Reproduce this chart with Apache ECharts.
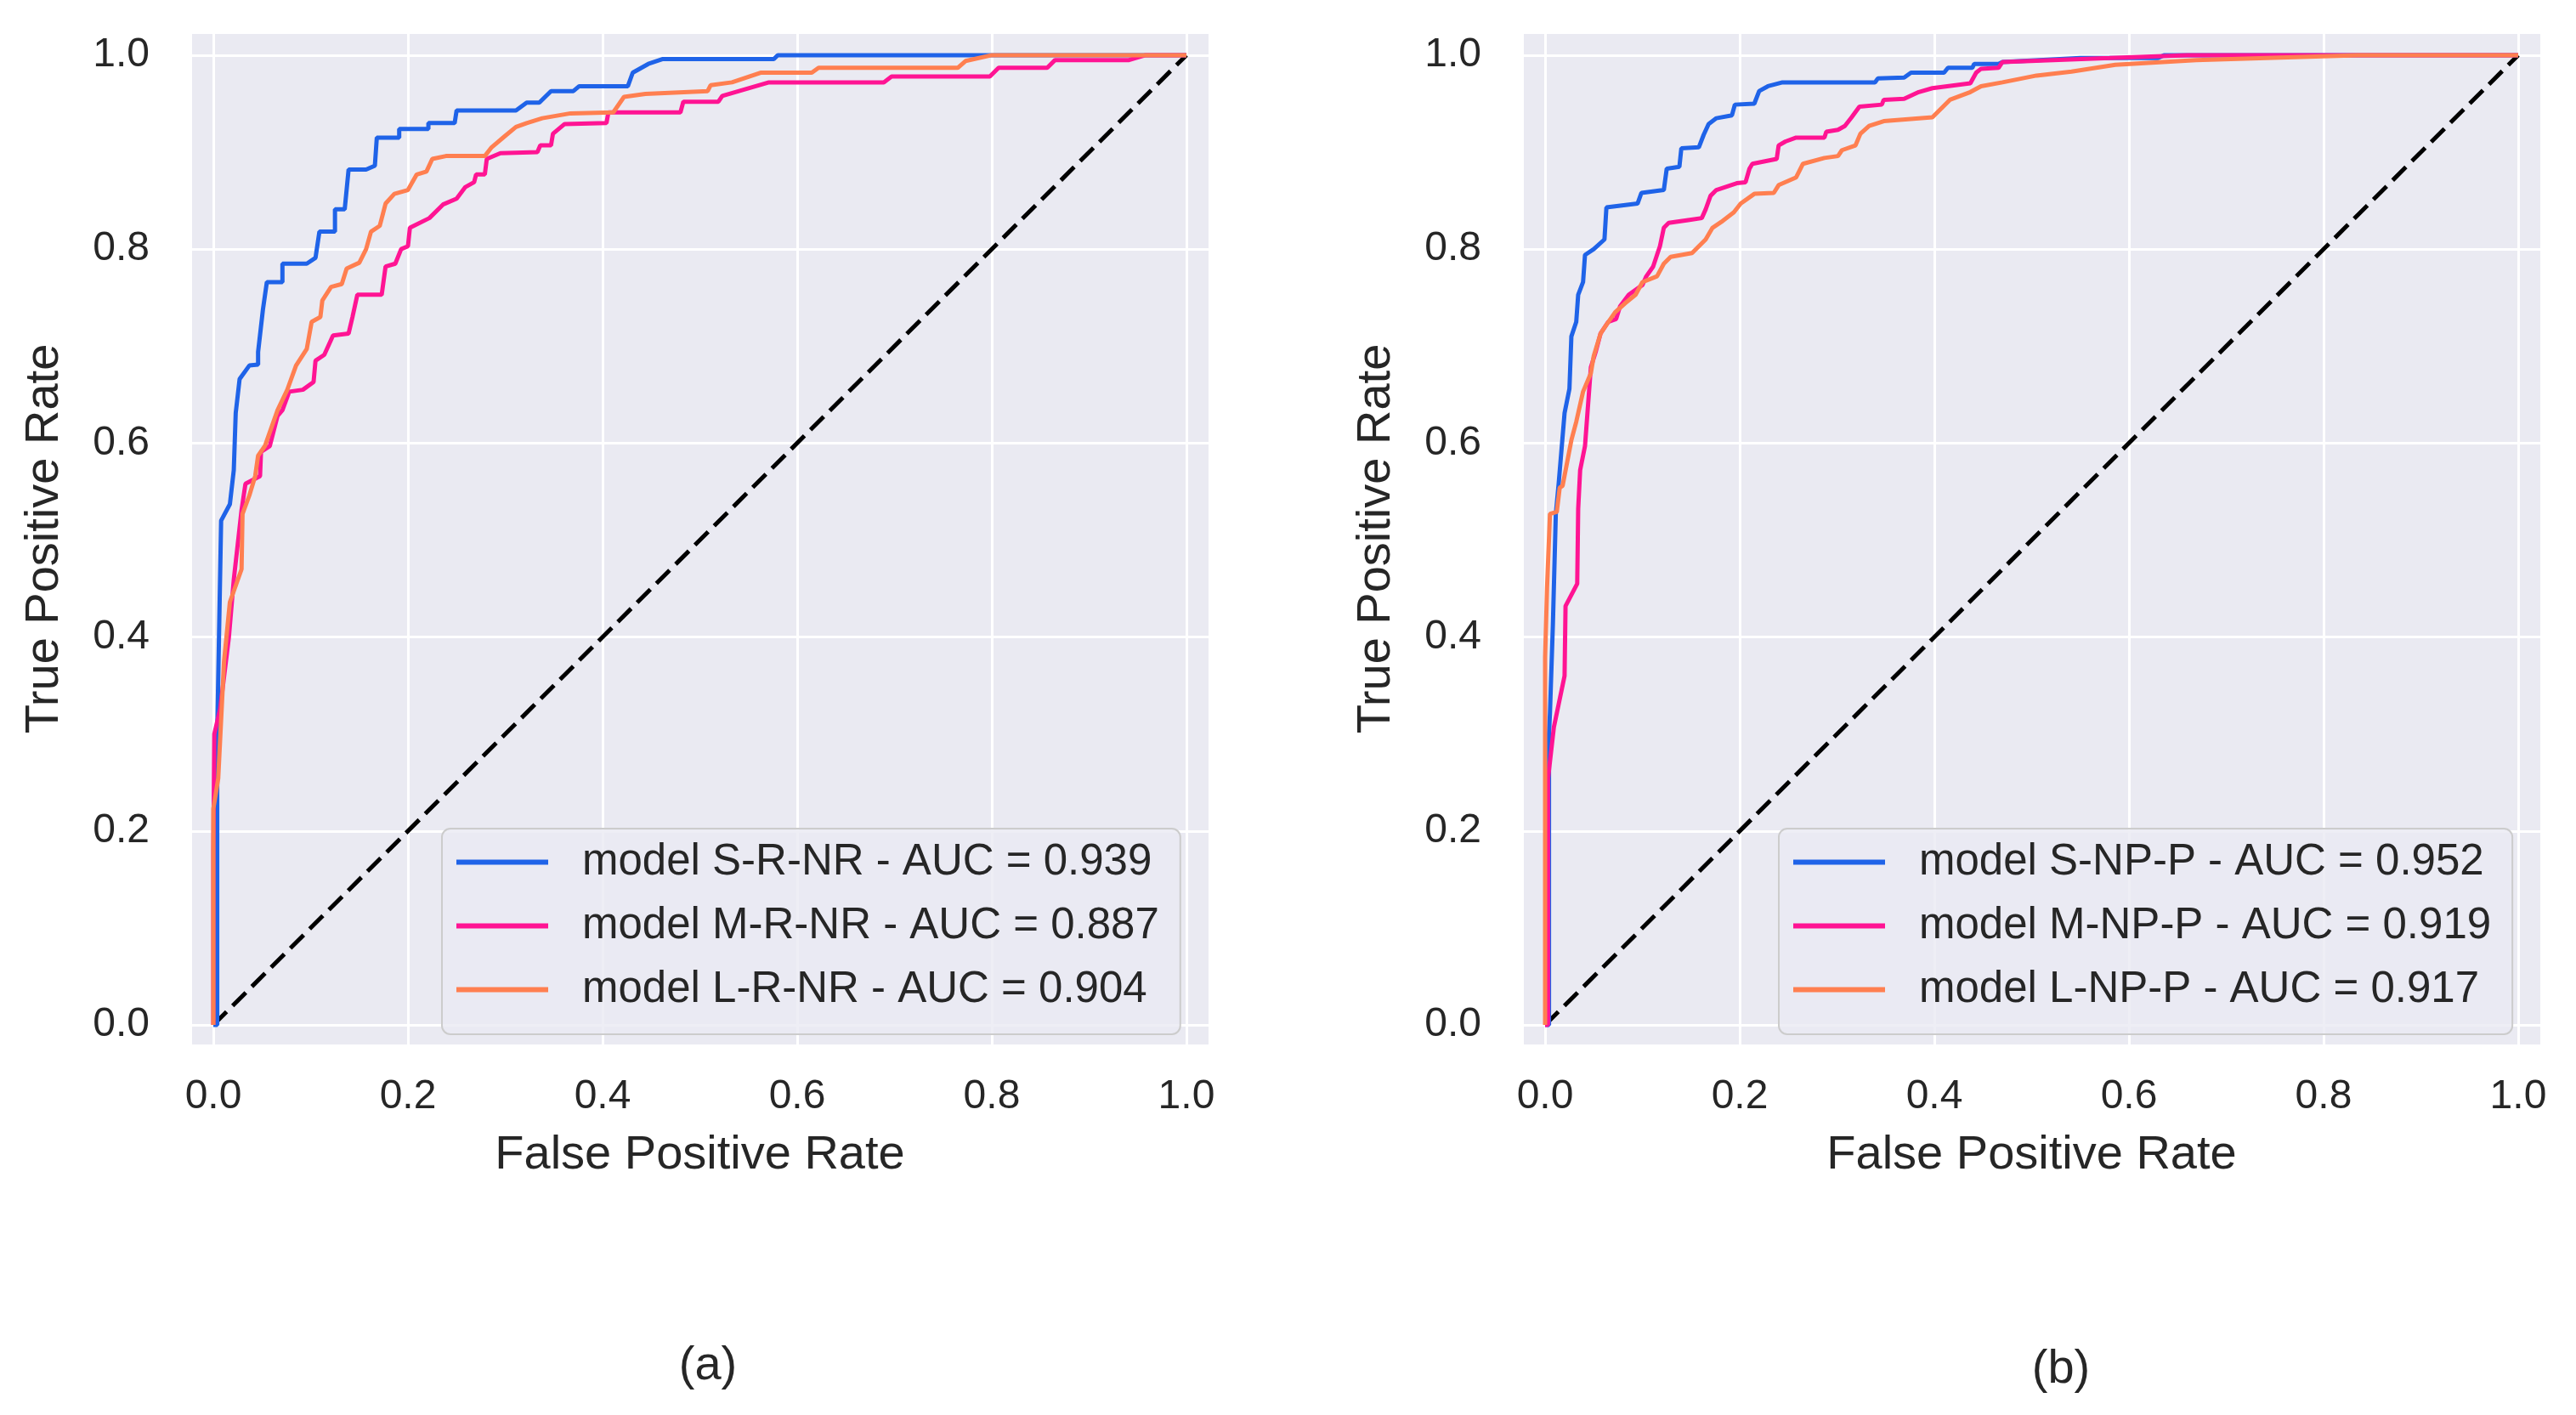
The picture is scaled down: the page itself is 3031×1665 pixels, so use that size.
<!DOCTYPE html>
<html>
<head>
<meta charset="utf-8">
<script src="https://cdn.jsdelivr.net/npm/echarts@6/dist/echarts.min.js"></script>
<style>
html,body{margin:0;padding:0;background:#fff}
#main{width:3031px;height:1665px}
</style>
</head>
<body>
<div id="main"></div>
<script>
// ROC points [FPR, TPR]
// panel (a)
var rocSRNR = [[0,0],[0.004,0],[0.004,0.30],[0.008,0.52],[0.017,0.537],[0.021,0.572],[0.023,0.631],[0.027,0.666],[0.037,0.68],[0.046,0.681],[0.046,0.694],[0.051,0.738],[0.055,0.766],[0.071,0.766],[0.071,0.785],[0.096,0.785],[0.105,0.791],[0.109,0.818],[0.125,0.818],[0.125,0.841],[0.135,0.841],[0.139,0.882],[0.157,0.882],[0.166,0.886],[0.168,0.915],[0.191,0.915],[0.191,0.924],[0.221,0.924],[0.221,0.930],[0.248,0.930],[0.25,0.943],[0.311,0.943],[0.322,0.951],[0.335,0.951],[0.347,0.963],[0.37,0.963],[0.376,0.968],[0.426,0.968],[0.431,0.982],[0.447,0.991],[0.462,0.996],[0.576,0.996],[0.58,1.0],[1.0,1.0]];
var rocMRNR = [[0,0],[0,0.18],[0.001,0.30],[0.007,0.326],[0.016,0.40],[0.021,0.459],[0.029,0.531],[0.033,0.558],[0.048,0.566],[0.049,0.591],[0.058,0.597],[0.066,0.628],[0.071,0.634],[0.078,0.653],[0.092,0.655],[0.103,0.663],[0.105,0.685],[0.114,0.691],[0.123,0.711],[0.139,0.713],[0.143,0.730],[0.148,0.753],[0.173,0.753],[0.177,0.782],[0.187,0.785],[0.193,0.80],[0.2,0.803],[0.202,0.822],[0.222,0.832],[0.236,0.846],[0.25,0.852],[0.259,0.864],[0.268,0.869],[0.27,0.877],[0.279,0.877],[0.281,0.893],[0.295,0.899],[0.333,0.900],[0.336,0.907],[0.347,0.907],[0.349,0.919],[0.361,0.929],[0.404,0.930],[0.406,0.941],[0.48,0.941],[0.483,0.952],[0.519,0.952],[0.523,0.958],[0.571,0.972],[0.689,0.972],[0.697,0.978],[0.798,0.978],[0.807,0.987],[0.857,0.987],[0.865,0.995],[0.941,0.995],[0.958,1.0],[1.0,1.0]];
var rocLRNR = [[0,0],[0,0.223],[0.005,0.254],[0.011,0.375],[0.017,0.436],[0.029,0.47],[0.03,0.527],[0.037,0.546],[0.043,0.566],[0.046,0.587],[0.053,0.597],[0.066,0.634],[0.076,0.655],[0.085,0.68],[0.096,0.697],[0.101,0.725],[0.110,0.730],[0.112,0.747],[0.121,0.761],[0.132,0.764],[0.137,0.78],[0.15,0.786],[0.157,0.80],[0.162,0.818],[0.171,0.824],[0.177,0.847],[0.186,0.857],[0.2,0.861],[0.209,0.877],[0.219,0.88],[0.225,0.893],[0.239,0.896],[0.279,0.896],[0.286,0.905],[0.299,0.916],[0.311,0.926],[0.322,0.930],[0.338,0.935],[0.367,0.94],[0.411,0.941],[0.422,0.957],[0.444,0.96],[0.508,0.963],[0.511,0.969],[0.533,0.972],[0.563,0.982],[0.615,0.982],[0.622,0.987],[0.765,0.987],[0.773,0.994],[0.80,1.0],[1.0,1.0]];
// panel (b)
var rocSNPP = [[0,0],[0.004,0],[0.004,0.30],[0.005,0.322],[0.008,0.413],[0.011,0.527],[0.014,0.559],[0.020,0.631],[0.025,0.656],[0.027,0.71],[0.032,0.725],[0.034,0.753],[0.039,0.766],[0.041,0.794],[0.050,0.80],[0.061,0.81],[0.063,0.843],[0.095,0.847],[0.099,0.858],[0.122,0.861],[0.125,0.883],[0.138,0.885],[0.140,0.904],[0.158,0.905],[0.163,0.918],[0.168,0.929],[0.176,0.935],[0.192,0.938],[0.195,0.949],[0.215,0.95],[0.22,0.963],[0.229,0.968],[0.244,0.972],[0.339,0.972],[0.342,0.976],[0.369,0.977],[0.376,0.982],[0.41,0.982],[0.414,0.987],[0.439,0.987],[0.441,0.991],[0.466,0.991],[0.47,0.993],[0.55,0.997],[0.63,0.997],[0.636,1.0],[1.0,1.0]];
var rocMNPP = [[0,0],[0.003,0],[0.003,0.254],[0.009,0.307],[0.02,0.36],[0.021,0.432],[0.033,0.455],[0.034,0.532],[0.036,0.572],[0.041,0.597],[0.047,0.678],[0.052,0.694],[0.057,0.713],[0.065,0.725],[0.073,0.728],[0.077,0.741],[0.086,0.753],[0.1,0.763],[0.104,0.772],[0.111,0.782],[0.116,0.797],[0.118,0.803],[0.122,0.822],[0.127,0.827],[0.147,0.83],[0.161,0.832],[0.165,0.841],[0.170,0.855],[0.176,0.861],[0.197,0.868],[0.206,0.869],[0.21,0.883],[0.213,0.888],[0.238,0.893],[0.24,0.907],[0.247,0.911],[0.258,0.915],[0.287,0.915],[0.289,0.921],[0.301,0.923],[0.308,0.927],[0.315,0.936],[0.323,0.947],[0.346,0.949],[0.348,0.954],[0.369,0.955],[0.384,0.962],[0.398,0.966],[0.437,0.971],[0.443,0.982],[0.448,0.986],[0.466,0.987],[0.47,0.993],[0.58,0.997],[0.66,1.0],[1.0,1.0]];
var rocLNPP = [[0,0],[0,0.246],[0,0.379],[0.002,0.451],[0.005,0.527],[0.012,0.529],[0.015,0.554],[0.018,0.556],[0.027,0.603],[0.032,0.622],[0.039,0.653],[0.047,0.672],[0.050,0.69],[0.057,0.713],[0.063,0.722],[0.072,0.735],[0.082,0.744],[0.093,0.753],[0.1,0.766],[0.115,0.772],[0.122,0.785],[0.129,0.792],[0.151,0.796],[0.158,0.803],[0.165,0.81],[0.172,0.822],[0.181,0.828],[0.194,0.838],[0.201,0.847],[0.215,0.857],[0.235,0.858],[0.24,0.866],[0.258,0.874],[0.265,0.888],[0.287,0.894],[0.301,0.896],[0.305,0.902],[0.319,0.907],[0.324,0.919],[0.333,0.927],[0.348,0.932],[0.398,0.936],[0.416,0.954],[0.437,0.962],[0.448,0.968],[0.47,0.972],[0.505,0.979],[0.541,0.983],[0.586,0.99],[0.669,0.995],[0.835,1.0],[1.0,1.0]];
var chance = [[0,0],[1,1]];

var namesA = ['model S-R-NR - AUC = 0.939','model M-R-NR - AUC = 0.887','model L-R-NR - AUC = 0.904'];
var namesB = ['model S-NP-P - AUC = 0.952','model M-NP-P - AUC = 0.919','model L-NP-P - AUC = 0.917'];
var colors = ['#1f63e8','#ff1493','#ff7f50'];

var font = "'Liberation Sans', Arial, sans-serif";
var ink = '#262626';

function xAx(i){
  return {
    type:'value', gridIndex:i, min:-0.0236, max:1.0236,
    name:'False Positive Rate', nameLocation:'middle', nameGap:102,
    nameTextStyle:{fontSize:56, color:ink, fontFamily:font},
    axisLine:{show:false, onZero:false}, axisTick:{show:false},
    axisLabel:{fontSize:48, color:ink, fontFamily:font, margin:37,
      showMinLabel:false, showMaxLabel:false,
      formatter:function(v){return v.toFixed(1);}},
    splitLine:{lineStyle:{color:'#ffffff', width:3}}
  };
}
function yAx(i){
  return {
    type:'value', gridIndex:i, min:-0.021, max:1.0236,
    name:'True Positive Rate', nameLocation:'middle', nameGap:143, nameRotate:90,
    nameTextStyle:{fontSize:56, color:ink, fontFamily:font},
    axisLine:{show:false, onZero:false}, axisTick:{show:false},
    axisLabel:{fontSize:48, color:ink, fontFamily:font, margin:48,
      showMinLabel:false, showMaxLabel:false,
      formatter:function(v){return v.toFixed(1);}},
    splitLine:{lineStyle:{color:'#ffffff', width:3}}
  };
}
function legendAt(left, names){
  return {
    orient:'vertical', left:left, top:975, data:names,
    icon:'rect', itemWidth:108, itemHeight:6, itemGap:24,
    padding:[14,25,27,17],
    backgroundColor:'rgba(234,234,242,0.8)', borderColor:'#cccccc', borderWidth:2, borderRadius:10,
    textStyle:{fontSize:51, color:ink, fontFamily:font, lineHeight:48, padding:[0,0,0,35]}
  };
}
function roc(name, data, color, i){
  return {type:'line', name:name, data:data, xAxisIndex:i, yAxisIndex:i,
    symbol:'none', color:color, lineStyle:{color:color, width:5}};
}
function diag(i){
  return {type:'line', data:chance, xAxisIndex:i, yAxisIndex:i, symbol:'none',
    lineStyle:{color:'#000000', width:5, type:[22,10]}, z:1};
}

var myChart = echarts.init(document.getElementById('main'));
var option = {
  animation:false,
  backgroundColor:'#ffffff',
  grid:[
    {left:224, top:38, width:1199, height:1192, show:true, backgroundColor:'#eaeaf2', borderWidth:0, outerBoundsMode:'none'},
    {left:1791, top:38, width:1199, height:1192, show:true, backgroundColor:'#eaeaf2', borderWidth:0, outerBoundsMode:'none'}
  ],
  xAxis:[xAx(0), xAx(1)],
  yAxis:[yAx(0), yAx(1)],
  legend:[legendAt(520, namesA), legendAt(2093, namesB)],
  graphic:[
    {type:'text', x:833, y:1608, style:{text:'(a)', fontSize:56, fill:ink, fontFamily:font, textAlign:'center', textVerticalAlign:'middle'}},
    {type:'text', x:2425, y:1612, style:{text:'(b)', fontSize:56, fill:ink, fontFamily:font, textAlign:'center', textVerticalAlign:'middle'}}
  ],
  series:[
    diag(0),
    roc(namesA[0], rocSRNR, colors[0], 0),
    roc(namesA[1], rocMRNR, colors[1], 0),
    roc(namesA[2], rocLRNR, colors[2], 0),
    diag(1),
    roc(namesB[0], rocSNPP, colors[0], 1),
    roc(namesB[1], rocMNPP, colors[1], 1),
    roc(namesB[2], rocLNPP, colors[2], 1)
  ]
};
myChart.setOption(option);
</script>
</body>
</html>
